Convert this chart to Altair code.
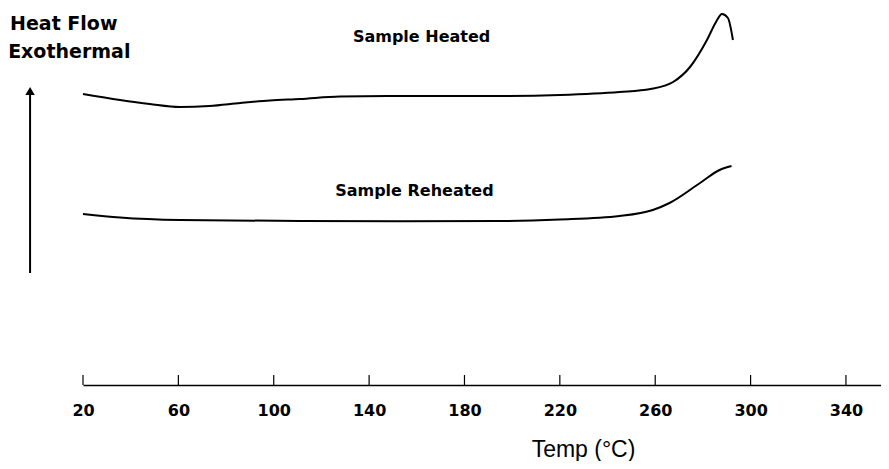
import altair as alt
import pandas as pd

# Sample Heated curve (temperature °C, heat flow arbitrary units)
heated_t = [20, 35.5, 48, 60.7, 73, 86, 98.4, 111, 127.8, 153, 195, 220, 245, 258, 267.5, 274.6, 281.7, 285.5, 288, 290.5, 292.6]
heated_y = [29.1, 28.5, 28.1, 27.8, 27.9, 28.2, 28.45, 28.6, 28.85, 28.9, 28.9, 29.0, 29.3, 29.6, 30.3, 31.8, 34.5, 36.3, 37.1, 36.7, 34.5]

# Sample Reheated curve
reheated_t = [20, 35.5, 60.7, 111, 153, 195, 220, 245, 259, 266, 278.8, 287, 292]
reheated_y = [17.1, 16.75, 16.5, 16.4, 16.38, 16.4, 16.55, 16.9, 17.5, 18.2, 20.2, 21.5, 21.9]

tick_values = [20, 60, 100, 140, 180, 220, 260, 300, 340]

label_text = ["Sample Heated", "Sample Reheated"]
label_t = [162, 159]
label_y = [34.3, 18.9]

side_text = ["Heat Flow", "Exothermal"]
side_t = [-10.6, -11.4]
side_y = [35.5, 32.7]

arrow_t = [-2.2]
arrow_y0 = [11.2]
arrow_y1 = [29.4]

x_dom = [20, 354.7]
y_dom = [0, 37.5]

curves = pd.DataFrame(
    {"T": heated_t + reheated_t,
     "HF": heated_y + reheated_y,
     "series": ["Heated"] * len(heated_t) + ["Reheated"] * len(reheated_t)}
)
ticks_df = pd.DataFrame({"T": tick_values, "y0": [0.0] * len(tick_values), "y1": [1.0] * len(tick_values)})
labels_df = pd.DataFrame({"T": label_t, "HF": label_y, "text": label_text})
side_df = pd.DataFrame({"T": side_t, "HF": side_y, "text": side_text})
arrow_df = pd.DataFrame({"T": arrow_t, "y0": arrow_y0, "y1": arrow_y1})

xs = alt.Scale(domain=x_dom, nice=False, zero=False)
ys = alt.Scale(domain=y_dom, nice=False, zero=False)

x_axis = alt.Axis(
    values=tick_values, ticks=False, grid=False, domainColor="black", domainWidth=1.5,
    labelFont="DejaVu Sans", labelFontSize=16, labelFontWeight="bold", labelColor="black",
    labelPadding=17, labelBound=False, labelFlush=False,
    title="Temp (°C)", titleFont="Liberation Sans", titleFontSize=23, titleFontWeight="normal",
    titleColor="black", titleX=500, titleY=71, titleAlign="center", titleBaseline="alphabetic",
)

lines = alt.Chart(curves).mark_line(color="black", strokeWidth=2, interpolate="monotone").encode(
    x=alt.X("T:Q", scale=xs, axis=x_axis),
    y=alt.Y("HF:Q", scale=ys, axis=None),
    detail="series:N",
)

tick_marks = alt.Chart(ticks_df).mark_rule(color="black", strokeWidth=1.2).encode(
    x=alt.X("T:Q", scale=xs), y=alt.Y("y0:Q", scale=ys), y2="y1:Q"
)

labels = alt.Chart(labels_df).mark_text(
    font="DejaVu Sans", fontSize=16, fontWeight="bold", color="black", align="center", baseline="alphabetic"
).encode(x=alt.X("T:Q", scale=xs), y=alt.Y("HF:Q", scale=ys), text="text:N")

side = alt.Chart(side_df).mark_text(
    font="DejaVu Sans", fontSize=19, fontWeight="bold", color="black", align="left", baseline="alphabetic"
).encode(x=alt.X("T:Q", scale=xs), y=alt.Y("HF:Q", scale=ys), text="text:N")

arrow_line = alt.Chart(arrow_df).mark_rule(color="black", strokeWidth=2).encode(
    x=alt.X("T:Q", scale=xs), y=alt.Y("y0:Q", scale=ys), y2="y1:Q"
)

arrow_head = alt.Chart(arrow_df).mark_point(
    shape="triangle-up", filled=True, color="black", size=90, opacity=1
).encode(x=alt.X("T:Q", scale=xs), y=alt.Y("y1:Q", scale=ys))

chart = alt.layer(lines, tick_marks, labels, side, arrow_line, arrow_head).properties(
    width=798, height=375,
    autosize=alt.AutoSizeParams(type="none"),
    padding={"left": 75, "top": 2, "right": 0, "bottom": 76},
    background="white",
).configure_view(stroke=None)

chart.save("out.html", embed_options={"renderer": "svg", "actions": False})
